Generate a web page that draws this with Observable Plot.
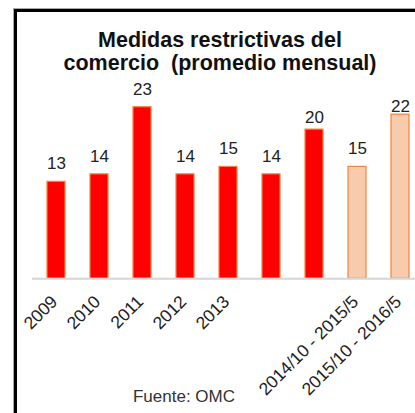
<!DOCTYPE html>
<html>
<head>
<meta charset="utf-8">
<script src="https://cdn.jsdelivr.net/npm/d3@7"></script>
<script src="https://cdn.jsdelivr.net/npm/@observablehq/plot@0.6"></script>
<style>
  html, body { margin: 0; padding: 0; background: #fff; }
  #wrap { position: relative; width: 415px; height: 413px; overflow: hidden; font-family: "Liberation Sans", Arial, sans-serif; }
  #frame { position: absolute; left: 14px; top: 9px; width: 500px; height: 500px; border: 3px solid #000; box-shadow: 0 0 0 1px #aaa; box-sizing: border-box; }
  #title { position: absolute; left: 0; width: 440px; top: 28.5px; text-align: center; font-weight: bold; font-size: 21.5px; line-height: 23px; color: #111; }
  #source { position: absolute; left: 84px; width: 200px; top: 386px; text-align: center; font-size: 17px; line-height: 22px; color: #333; }
  #chart { position: absolute; left: 0; top: 0; }
</style>
</head>
<body>
<div id="wrap">
  <div id="frame"></div>
  <div id="chart"></div>
  <div id="title">Medidas restrictivas del<br>comercio&nbsp; (promedio mensual)</div>
  <div id="source">Fuente: OMC</div>
</div>
<script>
const categories = ["2009", "2010", "2011", "2012", "2013", "2014", "2015", "2014/10 - 2015/5", "2015/10 - 2016/5"];
const tickLabels = ["2009", "2010", "2011", "2012", "2013", "", "", "2014/10 - 2015/5", "2015/10 - 2016/5"];
const values = [13, 14, 23, 14, 15, 14, 20, 15, 22];
const periodType = ["anual", "anual", "anual", "anual", "anual", "anual", "anual", "oct-may", "oct-may"];

const data = categories.map((c, i) => ({cat: c, value: values[i], type: periodType[i]}));

const chart = Plot.plot({
  width: 415,
  height: 413,
  marginLeft: 32,
  marginRight: 0,
  marginTop: 0,
  marginBottom: 134.7,
  style: {background: "transparent", fontFamily: "'Liberation Sans', Arial, sans-serif"},
  x: {domain: categories, range: [32, 424], paddingInner: 0.586, paddingOuter: 0.299, label: null},
  y: {domain: [0, 30], range: [278.3, 54.5], axis: null},
  marks: [
    Plot.barY(data, {
      x: "cat", y: "value",
      fill: d => d.type === "anual" ? "#FF0000" : "#F8CBAD",
      stroke: d => d.type === "anual" ? "#F5823C" : "#EE8640",
      strokeWidth: 1.2
    }),
    Plot.ruleY([0], {stroke: "#d6d6d6", strokeWidth: 2}),
    Plot.text(data, {filter: d => d.value < 20 || d.value === 23, x: "cat", y: "value", text: d => String(d.value), dy: -18, fontSize: 17, fill: "#222"}),
    Plot.text(data, {filter: d => d.value === 20, x: "cat", y: "value", text: d => String(d.value), dy: -12, fontSize: 17, fill: "#222"}),
    Plot.text(data, {filter: d => d.value === 22, x: "cat", y: "value", text: d => String(d.value), dy: -8.5, fontSize: 17, fill: "#222"}),
    Plot.axisX({
      tickFormat: d => tickLabels[categories.indexOf(d)],
      tickRotate: -45,
      tickSize: 0,
      tickPadding: 16,
      dx: -2,
      dy: 4,
      fontSize: 17.5,
      fill: "#222",
      label: null
    })
  ]
});
document.getElementById("chart").appendChild(chart);
</script>
</body>
</html>
